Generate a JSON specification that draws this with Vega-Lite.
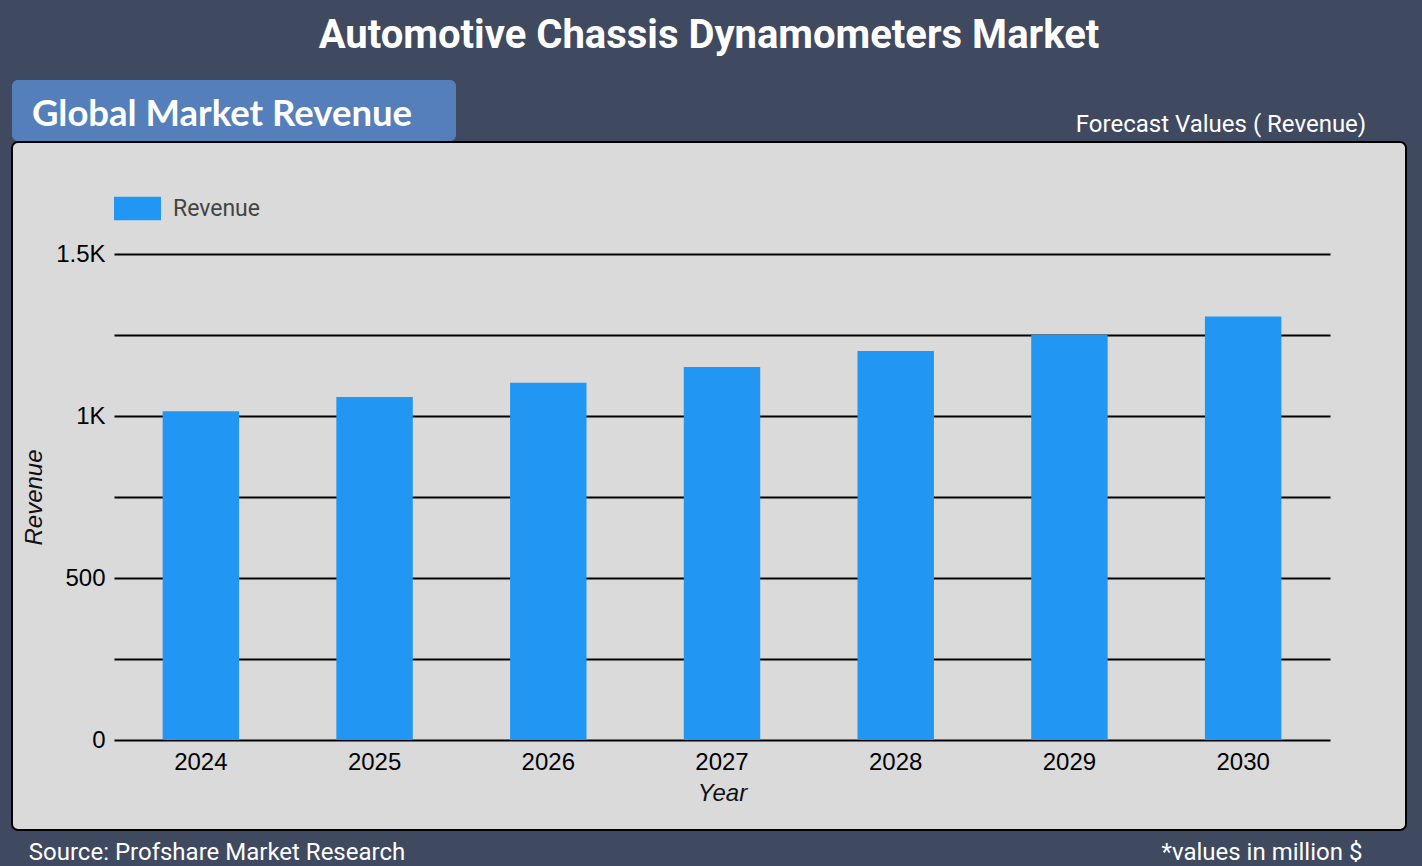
{
  "$schema": "https://vega.github.io/schema/vega-lite/v6.json",
  "background": "#3f495f",
  "padding": {"left": 11, "top": 16, "right": 17, "bottom": 0},
  "title": {
    "text": "Automotive Chassis Dynamometers Market",
    "color": "#ffffff",
    "font": "Roboto",
    "fontSize": 40,
    "fontWeight": "bold",
    "anchor": "middle",
    "offset": 24
  },
  "spacing": 0,
  "vconcat": [
    {
      "spacing": 619,
      "hconcat": [
        {
          "width": 444,
          "height": 61,
          "view": {"fill": "#557fba", "cornerRadius": 6, "stroke": null},
          "data": {"values": [{"label": "Global Market Revenue"}]},
          "mark": {"type": "text", "font": "Lato", "fontSize": 36.5, "fontWeight": "bold", "color": "#ffffff", "baseline": "alphabetic", "dx": -12, "dy": 15},
          "encoding": {"text": {"field": "label"}}
        },
        {
          "width": 292,
          "height": 61,
          "view": {"stroke": null},
          "data": {"values": [{"label": "Forecast Values ( Revenue)"}]},
          "mark": {"type": "text", "font": "Roboto", "fontSize": 24, "color": "#ffffff", "baseline": "alphabetic", "dy": 21},
          "encoding": {"text": {"field": "label"}}
        }
      ]
    },
    {
      "width": 1394,
      "height": 688,
      "view": {"fill": "#dadada", "stroke": "#000000", "strokeWidth": 2, "cornerRadius": 6},
      "data": {
        "values": [
          {"Year": "2024", "Revenue": 1015, "series": "Revenue"},
          {"Year": "2025", "Revenue": 1059, "series": "Revenue"},
          {"Year": "2026", "Revenue": 1103, "series": "Revenue"},
          {"Year": "2027", "Revenue": 1151, "series": "Revenue"},
          {"Year": "2028", "Revenue": 1201, "series": "Revenue"},
          {"Year": "2029", "Revenue": 1251, "series": "Revenue"},
          {"Year": "2030", "Revenue": 1307, "series": "Revenue"}
        ]
      },
      "mark": {"type": "bar"},
      "encoding": {
        "x": {
          "field": "Year",
          "type": "ordinal",
          "scale": {"range": [102, 1318], "paddingInner": 0.56, "paddingOuter": 0.28},
          "axis": {
            "offset": -90,
            "domain": false,
            "ticks": false,
            "grid": false,
            "labelAngle": 0,
            "labelFont": "Liberation Sans",
            "labelFontSize": 24,
            "labelColor": "#000000",
            "labelPadding": 10,
            "title": "Year",
            "titleFont": "Liberation Sans",
            "titleFontSize": 24,
            "titleFontStyle": "italic",
            "titleFontWeight": "normal",
            "titleColor": "#111111",
            "titlePadding": 7
          }
        },
        "y": {
          "field": "Revenue",
          "type": "quantitative",
          "scale": {"domain": [0, 1500], "range": [598, 112], "nice": false},
          "axis": {
            "offset": -102,
            "values": [0, 250, 500, 750, 1000, 1250, 1500],
            "labelExpr": "datum.value % 500 === 0 ? replace(format(datum.value, '~s'), 'k', 'K') : ''",
            "domain": false,
            "ticks": false,
            "grid": true,
            "gridColor": "#000000",
            "gridWidth": 2,
            "gridOpacity": 1,
            "labelFont": "Liberation Sans",
            "labelFontSize": 24,
            "labelColor": "#000000",
            "labelPadding": 9,
            "title": "Revenue",
            "titleFont": "Liberation Sans",
            "titleFontSize": 24,
            "titleFontStyle": "italic",
            "titleFontWeight": "normal",
            "titleColor": "#111111",
            "titlePadding": 9
          }
        },
        "color": {
          "field": "series",
          "type": "nominal",
          "scale": {"range": ["#2196f3"]},
          "legend": {
            "title": null,
            "orient": "none",
            "legendX": 102,
            "legendY": 105,
            "padding": 0,
            "symbolType": "M-1,-0.5H1V0.5H-1Z",
            "symbolSize": 2209,
            "symbolStrokeWidth": 0,
            "symbolOpacity": 1,
            "labelFont": "Roboto",
            "labelFontSize": 23,
            "labelColor": "#444444",
            "labelOffset": 12
          }
        }
      }
    },
    {
      "spacing": 735,
      "hconcat": [
        {
          "width": 410,
          "height": 37,
          "view": {"stroke": null},
          "data": {"values": [{"label": "Source: Profshare Market Research"}]},
          "mark": {"type": "text", "font": "Roboto", "fontSize": 24, "color": "#ffffff", "baseline": "alphabetic", "dy": 10},
          "encoding": {"text": {"field": "label"}}
        },
        {
          "width": 210,
          "height": 37,
          "view": {"stroke": null},
          "data": {"values": [{"label": "*values in million $"}]},
          "mark": {"type": "text", "font": "Roboto", "fontSize": 24, "color": "#ffffff", "baseline": "alphabetic", "dy": 10},
          "encoding": {"text": {"field": "label"}}
        }
      ]
    }
  ],
  "config": {
    "view": {"stroke": null},
    "bar": {"color": "#2196f3"}
  }
}
